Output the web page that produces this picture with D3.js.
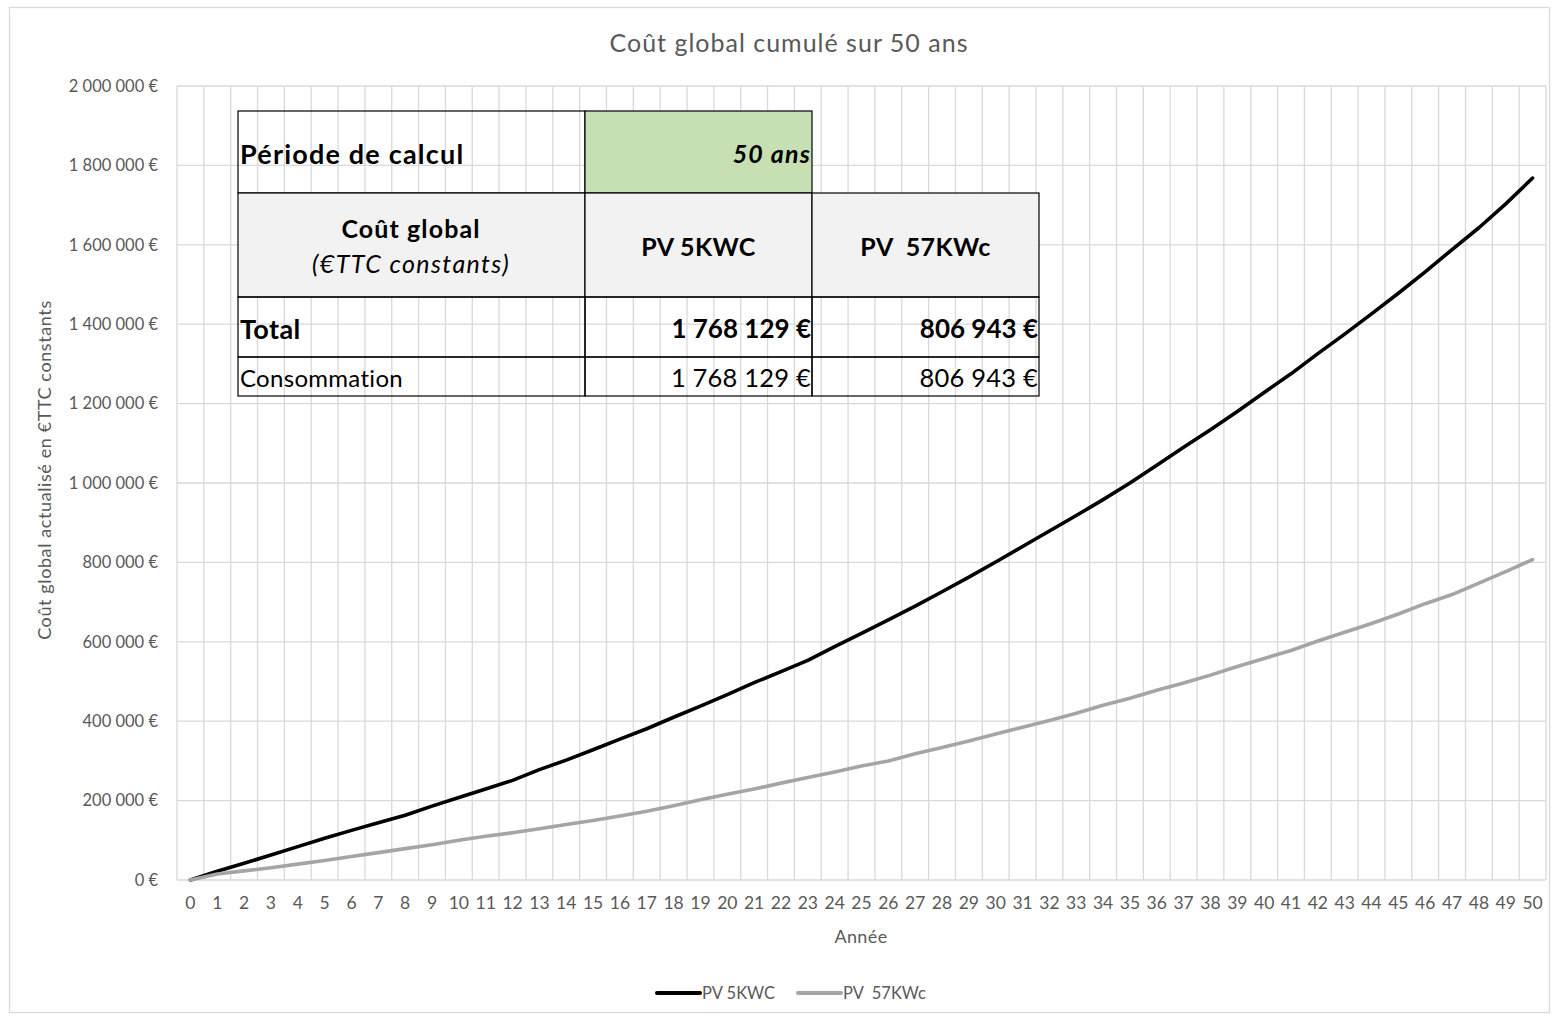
<!DOCTYPE html>
<html>
<head>
<meta charset="utf-8">
<title>Coût global cumulé sur 50 ans</title>
<script src="https://cdn.jsdelivr.net/npm/d3@7"></script>
<style>
    body { margin: 0; background: #fff; }
    svg { display: block; font-family: Lato, "Open Sans", sans-serif; }
    .tick-label { fill: #595959; }
    .grid line { stroke: #d9d9d9; stroke-width: 1.3; }
    .cell-text { fill: #000; }
</style>
</head>
<body>
<script>
// years on the category axis
var years = d3.range(0, 51);

// cumulative global cost, €
var pv5kwc = [
    0, 22000, 42000, 63000, 84000, 105000, 125000, 144000, 163000, 186000,
    208000, 229000, 251000, 278000, 302000, 328000, 355000, 381000, 410000, 438000,
    467000, 497000, 525000, 553000, 588000, 621000, 655000, 690000, 726000, 763000,
    801000, 840000, 879000, 918000, 958000, 1000000, 1045000, 1090000, 1134000, 1180000,
    1228000, 1275000, 1326000, 1375000, 1426000, 1478000, 1532000, 1588000, 1643000, 1703000,
    1768129
];
var pv57kwc = [
    0, 15000, 23000, 31000, 40000, 49000, 59000, 69000, 79000, 89000,
    100000, 110000, 119000, 129000, 140000, 150000, 161000, 173000, 187000, 202000,
    216000, 229000, 244000, 258000, 272000, 287000, 300000, 318000, 334000, 350000,
    368000, 385000, 402000, 420000, 440000, 458000, 478000, 496000, 516000, 538000,
    558000, 578000, 602000, 624000, 646000, 670000, 696000, 719000, 748000, 777000,
    806943
];

var seriesNames = ["PV 5KWC", "PV  57KWc"];
var seriesColors = ["#000000", "#a5a5a5"];
var yTicks = d3.range(0, 2000001, 200000);

// summary table
var periodLabel = "Période de calcul";
var periodValue = "50 ans";
var headerLabel = ["Coût global", "(€TTC constants)"];
var totalLabel = "Total";
var consoLabel = "Consommation";
var totals = [1768129, 806943];
var consommation = [1768129, 806943];

var width = 1556, height = 1017;
var margin = {left: 177, right: 10, top: 86, bottom: 137};

var fr = d3.formatLocale({decimal: ",", thousands: "\u00a0", grouping: [3], currency: ["", "\u00a0€"]});
var fmtEuro = fr.format("$,.0f");

var svg = d3.select("body").append("svg")
    .attr("width", width)
    .attr("height", height);

// chart frame
svg.append("rect")
    .attr("x", 9.5).attr("y", 7.5)
    .attr("width", 1540).attr("height", 1005)
    .attr("fill", "#fff")
    .attr("stroke", "#d9d9d9")
    .attr("stroke-width", 1.3);

var x = d3.scaleBand()
    .domain(years)
    .range([margin.left, width - margin.right]);

var y = d3.scaleLinear()
    .domain([0, 2000000])
    .range([height - margin.bottom, margin.top]);

function xMid(i) { return x(i) + x.bandwidth() / 2; }

// grid
var grid = svg.append("g").attr("class", "grid");
grid.selectAll("line.h")
    .data(yTicks)
    .enter().append("line")
    .attr("class", "h")
    .attr("x1", x.range()[0]).attr("x2", x.range()[1])
    .attr("y1", function (d) { return y(d); })
    .attr("y2", function (d) { return y(d); });

grid.selectAll("line.v")
    .data(d3.range(0, years.length + 1))
    .enter().append("line")
    .attr("class", "v")
    .attr("x1", function (k) { return x.range()[0] + k * x.step(); })
    .attr("x2", function (k) { return x.range()[0] + k * x.step(); })
    .attr("y1", y(0)).attr("y2", y(2000000));

// y axis labels
var yAxis = d3.axisLeft(y)
    .tickValues(yTicks)
    .tickSize(0)
    .tickPadding(19)
    .tickFormat(fmtEuro);

var yG = svg.append("g")
    .attr("transform", "translate(" + margin.left + ",0)")
    .call(yAxis);
yG.select(".domain").remove();
yG.selectAll("text")
    .attr("class", "tick-label")
    .style("font-size", "16.5px")
    .style("font-family", "Lato, sans-serif");

// x axis labels
var xAxis = d3.axisBottom(x)
    .tickSize(0)
    .tickPadding(17);

var xG = svg.append("g")
    .attr("transform", "translate(0," + y(0) + ")")
    .call(xAxis);
xG.select(".domain").remove();
xG.selectAll("text")
    .attr("class", "tick-label")
    .style("font-size", "17.5px")
    .style("font-family", "Lato, sans-serif");

// titles
svg.append("text")
    .attr("x", 789).attr("y", 52)
    .attr("text-anchor", "middle")
    .attr("fill", "#595959")
    .style("font-size", "25px")
    .style("letter-spacing", "1px")
    .text("Coût global cumulé sur 50 ans");

svg.append("text")
    .attr("x", 861).attr("y", 943)
    .attr("text-anchor", "middle")
    .attr("fill", "#595959")
    .style("font-size", "18px")
    .style("letter-spacing", "0.4px")
    .text("Année");

svg.append("text")
    .attr("transform", "translate(51," + ((y(0) + y(2000000)) / 2 - 13) + ") rotate(-90)")
    .attr("text-anchor", "middle")
    .attr("fill", "#595959")
    .style("font-size", "18px")
    .style("letter-spacing", "0.6px")
    .text("Coût global actualisé en €TTC constants");

// series lines
var line = d3.line()
    .x(function (d, i) { return xMid(i); })
    .y(function (d) { return y(d); });

[pv5kwc, pv57kwc].forEach(function (values, s) {
    svg.append("path")
        .datum(values)
        .attr("fill", "none")
        .attr("stroke", seriesColors[s])
        .attr("stroke-width", 3.6)
        .attr("stroke-linejoin", "round")
        .attr("stroke-linecap", "round")
        .attr("d", line);
});

// summary table
var colX = [238, 585, 812, 1039];
var rowY = [111, 193, 297, 357, 396];
var table = svg.append("g");

function cell(c, r, fill) {
    table.append("rect")
        .attr("x", colX[c]).attr("y", rowY[r])
        .attr("width", colX[c + 1] - colX[c])
        .attr("height", rowY[r + 1] - rowY[r])
        .attr("fill", fill || "none")
        .attr("stroke", "#000")
        .attr("stroke-width", 1.2);
}

function cellText(str, xPos, yPos, anchor, size, weight, style, spacing) {
    table.append("text")
        .attr("class", "cell-text")
        .attr("x", xPos).attr("y", yPos)
        .attr("text-anchor", anchor)
        .attr("dominant-baseline", "central")
        .style("font-size", size + "px")
        .style("font-weight", weight || "normal")
        .style("font-style", style || "normal")
        .style("letter-spacing", (spacing || 0) + "px")
        .style("white-space", "pre")
        .text(str);
}

cell(0, 0);
cell(1, 0, "#c6e0b4");
cell(0, 1, "#f2f2f2");
cell(1, 1, "#f2f2f2");
cell(2, 1, "#f2f2f2");
for (var r = 2; r < 4; r++) {
    for (var c = 0; c < 3; c++) cell(c, r);
}

cellText(periodLabel, 240, 153, "start", 27, "bold", "normal", 1.2);
cellText(periodValue, 811, 153, "end", 25, "bold", "italic", 1.2);
cellText(headerLabel[0], 411, 228, "middle", 25, "bold", "normal", 1.1);
cellText(headerLabel[1], 411, 263, "middle", 25, "normal", "italic", 1.4);
seriesNames.forEach(function (n, i) {
    cellText(n, (colX[i + 1] + colX[i + 2]) / 2, 246, "middle", 25, "bold", "normal", 0.4);
});
cellText(totalLabel, 240, 328, "start", 27, "bold", "normal", 0.4);
cellText(consoLabel, 240, 377, "start", 24, "normal", "normal", 0.3);
totals.forEach(function (v, i) {
    cellText(fmtEuro(v), colX[i + 2] - 1, 328, "end", 26, "bold");
});
consommation.forEach(function (v, i) {
    cellText(fmtEuro(v), colX[i + 2] - 1, 377, "end", 25.5, "normal", "normal", 0.2);
});

// legend
var legendX = [657, 798];
seriesNames.forEach(function (n, i) {
    svg.append("line")
        .attr("x1", legendX[i]).attr("x2", legendX[i] + 43)
        .attr("y1", 993).attr("y2", 993)
        .attr("stroke", seriesColors[i])
        .attr("stroke-width", 4)
        .attr("stroke-linecap", "round");
    svg.append("text")
        .attr("x", legendX[i] + 45).attr("y", 993)
        .attr("dominant-baseline", "central")
        .attr("fill", "#595959")
        .style("font-size", "16.5px")
        .style("white-space", "pre")
        .text(n);
});
</script>
</body>
</html>
